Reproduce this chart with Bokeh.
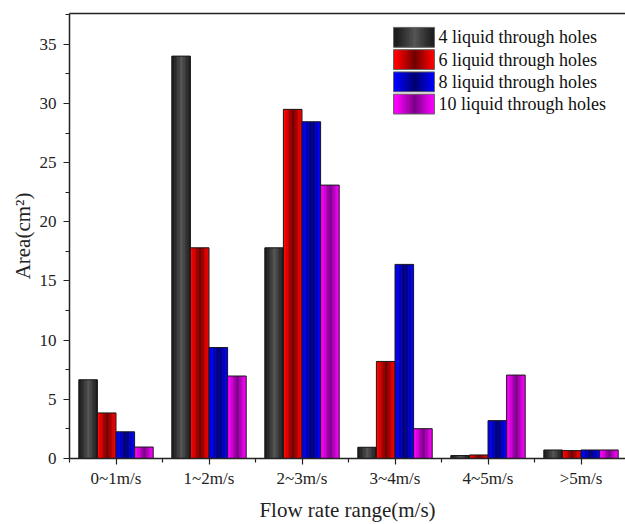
import numpy as np
from bokeh.plotting import figure
from bokeh.models import FixedTicker, LinearAxis, Range1d, ColumnDataSource
from bokeh.core.properties import value
from bokeh.embed import file_html
from bokeh.resources import INLINE

# ---------------- data ----------------
categories = ["0~1m/s", "1~2m/s", "2~3m/s", "3~4m/s", "4~5m/s", ">5m/s"]
series_names = ["4 liquid through holes", "6 liquid through holes",
                "8 liquid through holes", "10 liquid through holes"]
holes4 = [6.65, 34.0, 17.8, 0.95, 0.25, 0.72]
holes6 = [3.85, 17.8, 29.5, 8.2, 0.30, 0.67]
holes8 = [2.25, 9.38, 28.45, 16.4, 3.2, 0.72]
holes10 = [0.97, 6.97, 23.1, 2.52, 7.05, 0.72]
y_ticks = [0, 5, 10, 15, 20, 25, 30, 35]

# ---------------- style ----------------
FONT = "Liberation Serif"
AX = "#222222"
# (edge colour, centre colour) for cylinder-like shading
shades = [((30, 30, 30), (85, 85, 85)),
          ((250, 0, 0), (110, 0, 0)),
          ((0, 0, 245), (0, 0, 110)),
          ((250, 0, 250), (120, 0, 135))]
NSTRIP = 24

W, H = 625, 524
BL, BT, BB = 69, 13, 63
frame_w = W - BL
frame_h = H - BT - BB
x0 = 0.5
x1 = x0 + frame_w / 93.0
y0, y1 = 0, 37.6

p = figure(width=W, height=H, output_backend="svg", toolbar_location=None,
           x_range=Range1d(x0, x1), y_range=Range1d(y0, y1),
           min_border_left=BL, min_border_right=0, min_border_top=BT,
           min_border_bottom=BB, outline_line_color=None,
           background_fill_color="white", border_fill_color="white")
p.xgrid.visible = False
p.ygrid.visible = False


def col(edge, centre, t):
    f = max(0.0, 1.0 - abs(t - 0.52) / 0.45) ** 1.1
    c = [int(round(e + (m - e) * f)) for e, m in zip(edge, centre)]
    return "#%02x%02x%02x" % tuple(c)


def shaded_quads(left, right, bottom, top, edge, centre):
    L, R, B, T, C = [], [], [], [], []
    for l, r, b, t in zip(left, right, bottom, top):
        step = (r - l) / NSTRIP
        for i in range(NSTRIP):
            sl = l + i * step
            sr = min(sl + step * 1.8, r)
            L.append(sl); R.append(sr); B.append(b); T.append(t)
            C.append(col(edge, centre, (i + 0.5) / NSTRIP))
    src = ColumnDataSource(dict(left=L, right=R, bottom=B, top=T, color=C))
    p.quad(left="left", right="right", bottom="bottom", top="top",
           fill_color="color", line_color=None, source=src)


bar_w = 0.2
offsets = [-0.3, -0.1, 0.1, 0.3]
xs = np.arange(1, len(categories) + 1)
for vals, off, (edge, centre) in zip([holes4, holes6, holes8, holes10], offsets, shades):
    xc = xs + off
    left = list(xc - bar_w / 2)
    right = list(xc + bar_w / 2)
    shaded_quads(left, right, [0] * len(vals), vals, edge, centre)
    p.quad(left=left, right=right, bottom=[0] * len(vals), top=vals,
           fill_color=None, line_color="#1a1a1a", line_width=1)

# ---------------- manual legend (pixel layout -> data) ----------------
def px2x(px):
    return x0 + (px - BL) * (x1 - x0) / frame_w


def py2y(py):
    return y1 - (py - BT) * (y1 - y0) / frame_h


leg_left, leg_right = 393, 434
row_top0, row_h, box_h = 27, 22.4, 20
for k, (name, (edge, centre)) in enumerate(zip(series_names, shades)):
    ty = row_top0 + k * row_h
    b = py2y(ty + box_h)
    t = py2y(ty)
    shaded_quads([px2x(leg_left)], [px2x(leg_right)], [b], [t], edge, centre)
    p.quad(left=[px2x(leg_left)], right=[px2x(leg_right)], bottom=[b], top=[t],
           fill_color=None, line_color="#666666", line_width=1)
    p.text(x=[px2x(leg_right + 4)], y=[(b + t) / 2], text=[name],
           text_font=value(FONT), text_font_size="18px",
           text_baseline="middle", text_align="left", text_color="#111111")

# ---------------- axes ----------------
xa = p.xaxis[0]
xa.ticker = FixedTicker(ticks=list(xs), minor_ticks=[i + 0.5 for i in range(0, 7)])
xa.major_label_overrides = {int(i): c for i, c in zip(xs, categories)}
ya = p.yaxis[0]
ya.ticker = FixedTicker(ticks=y_ticks, minor_ticks=[v + 2.5 for v in y_ticks])

for ax in (xa, ya):
    ax.axis_line_color = AX
    ax.axis_line_width = 1.5
    ax.major_tick_line_color = AX
    ax.minor_tick_line_color = AX
    ax.major_tick_line_width = 1.2
    ax.minor_tick_line_width = 1.2
    ax.major_tick_in = 0
    ax.major_tick_out = 6
    ax.minor_tick_in = 0
    ax.minor_tick_out = 4
    ax.major_label_text_font = FONT
    ax.major_label_text_font_size = "17px"
    ax.major_label_text_color = "#222222"
    ax.axis_label_text_font = FONT
    ax.axis_label_text_font_size = "21px"
    ax.axis_label_text_font_style = "normal"
    ax.axis_label_text_color = "#222222"

xa.axis_label = "Flow rate range(m/s)"
xa.major_label_standoff = 4
xa.axis_label_standoff = 7
ya.axis_label = "Area(cm²)"
ya.major_label_standoff = 7
ya.axis_label_standoff = 2

top = LinearAxis(ticker=FixedTicker(ticks=[]), axis_line_color=AX,
                 axis_line_width=1.5, major_tick_line_color=None,
                 minor_tick_line_color=None, major_label_standoff=0,
                 major_tick_out=0, minor_tick_out=0)
p.add_layout(top, "above")

open("out.html", "w").write(file_html(p, INLINE))
